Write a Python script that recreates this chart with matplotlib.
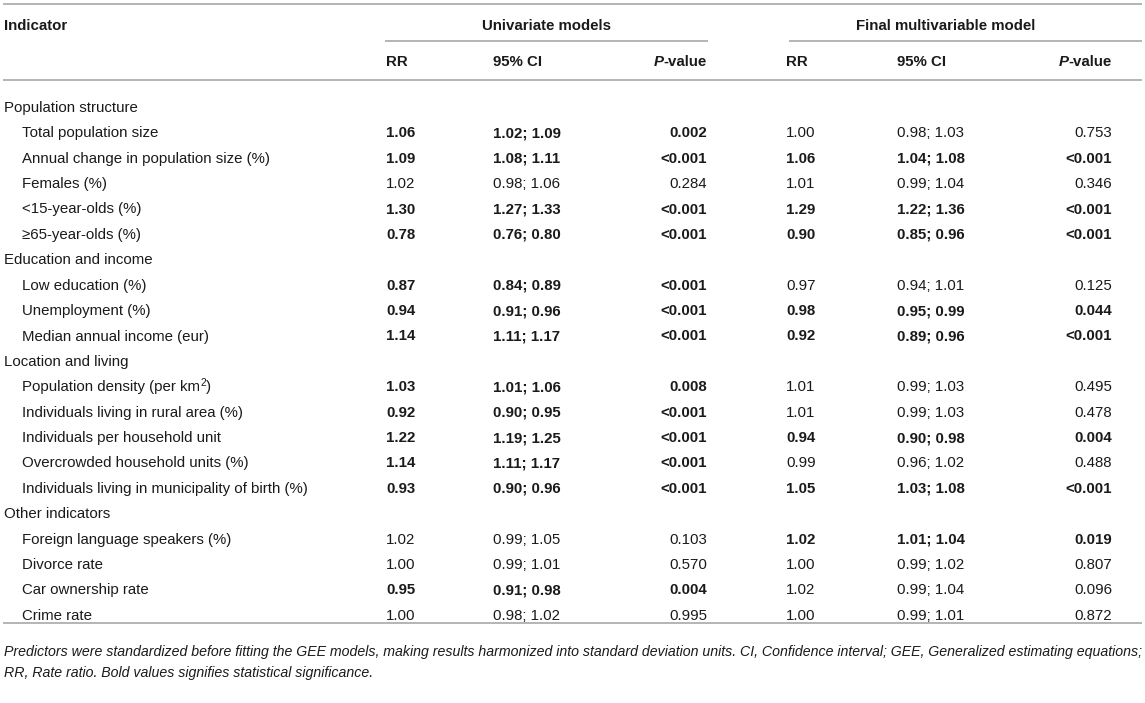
import matplotlib
matplotlib.use("Agg")
import matplotlib.pyplot as plt

# ---------------- data ----------------
groups = ["Population structure", "Education and income", "Location and living", "Other indicators"]
group_members = [
    ["Total population size", "Annual change in population size (%)", "Females (%)",
     "<15-year-olds (%)", "\u226565-year-olds (%)"],
    ["Low education (%)", "Unemployment (%)", "Median annual income (eur)"],
    ["Population density (per km^2)", "Individuals living in rural area (%)",
     "Individuals per household unit", "Overcrowded household units (%)",
     "Individuals living in municipality of birth (%)"],
    ["Foreign language speakers (%)", "Divorce rate", "Car ownership rate", "Crime rate"],
]
uni_rr = ["1.06", "1.09", "1.02", "1.30", "0.78", "0.87", "0.94", "1.14", "1.03", "0.92",
          "1.22", "1.14", "0.93", "1.02", "1.00", "0.95", "1.00"]
uni_ci = ["1.02; 1.09", "1.08; 1.11", "0.98; 1.06", "1.27; 1.33", "0.76; 0.80", "0.84; 0.89",
          "0.91; 0.96", "1.11; 1.17", "1.01; 1.06", "0.90; 0.95", "1.19; 1.25", "1.11; 1.17",
          "0.90; 0.96", "0.99; 1.05", "0.99; 1.01", "0.91; 0.98", "0.98; 1.02"]
uni_p = ["0.002", "<0.001", "0.284", "<0.001", "<0.001", "<0.001", "<0.001", "<0.001", "0.008",
         "<0.001", "<0.001", "<0.001", "<0.001", "0.103", "0.570", "0.004", "0.995"]
fin_rr = ["1.00", "1.06", "1.01", "1.29", "0.90", "0.97", "0.98", "0.92", "1.01", "1.01",
          "0.94", "0.99", "1.05", "1.02", "1.00", "1.02", "1.00"]
fin_ci = ["0.98; 1.03", "1.04; 1.08", "0.99; 1.04", "1.22; 1.36", "0.85; 0.96", "0.94; 1.01",
          "0.95; 0.99", "0.89; 0.96", "0.99; 1.03", "0.99; 1.03", "0.90; 0.98", "0.96; 1.02",
          "1.03; 1.08", "1.01; 1.04", "0.99; 1.02", "0.99; 1.04", "0.99; 1.01"]
fin_p = ["0.753", "<0.001", "0.346", "<0.001", "<0.001", "0.125", "0.044", "<0.001", "0.495",
         "0.478", "0.004", "0.488", "<0.001", "0.019", "0.807", "0.096", "0.872"]
uni_sig = [True, True, False, True, True, True, True, True, True, True, True, True, True,
           False, False, True, False]
fin_sig = [False, True, False, True, True, False, True, True, False, False, True, False, True,
           True, False, False, False]
footnote = ["Predictors were standardized before fitting the GEE models, making results harmonized into standard deviation units. CI, Confidence interval; GEE, Generalized estimating equations;",
            "RR, Rate ratio. Bold values signifies statistical significance."]

# ---------------- layout ----------------
W, H = 1145, 703
FONT = "Liberation Sans"
FS = 10.8
TXT = "#1a1a1a"
LINE = "#a0a0a0"

fig = plt.figure(figsize=(W / 100, H / 100), dpi=100)
ax = fig.add_axes([0, 0, 1, 1])
ax.set_xlim(0, W)
ax.set_ylim(H, 0)
ax.axis("off")
fig.canvas.draw()
renderer = fig.canvas.get_renderer()


def txt(x, y, s, ha="left", bold=False, italic=False, size=FS, base=None):
    # y is the visual centre of the row; draw on a common baseline
    yb = y + 3.9 * FS / 10.8 if base is None else base
    return ax.text(x, yb, s, ha=ha, va="baseline", fontsize=size,
                   family=FONT, color=TXT,
                   fontweight="bold" if bold else "normal",
                   fontstyle="italic" if italic else "normal")


def right_edge(t):
    bb = t.get_window_extent(renderer=renderer)
    return ax.transData.inverted().transform((bb.x1, bb.y0))[0]


def left_edge(t):
    bb = t.get_window_extent(renderer=renderer)
    return ax.transData.inverted().transform((bb.x0, bb.y0))[0]


def label(x, y, s):
    # supports a single "^2" style superscript
    if "^" in s:
        pre, rest = s.split("^", 1)
        sup, post = rest[0], rest[1:]
        t1 = txt(x, y, pre)
        x1 = right_edge(t1)
        yb = y + 3.9 * FS / 10.8
        t2 = txt(x1 + 0.3, y, sup, size=FS * 0.68, base=yb - 5.5)
        x2 = right_edge(t2)
        txt(x2 + 0.3, y, post)
    else:
        txt(x, y, s)


def hline(y, x0, x1):
    ax.plot([x0, x1], [y, y], color=LINE, lw=1.1, solid_capstyle="butt")


# rules
hline(4, 3, 1142)
hline(41, 385, 708)
hline(41, 789, 1142)
hline(80, 3, 1142)
hline(623, 3, 1142)

# headers
txt(4, 26, "Indicator", bold=True)
txt(546, 26, "Univariate models", ha="center", bold=True)
txt(946, 26, "Final multivariable model", ha="center", bold=True)

col_rr = [386, 786]
col_ci = [493, 897]
col_p = [707, 1112]

for i in range(2):
    txt(col_rr[i], 62, "RR", bold=True)
    txt(col_ci[i], 62, "95% CI", bold=True)
    t = txt(col_p[i], 62, "-value", ha="right", bold=True)
    txt(left_edge(t), 62, "P", ha="right", bold=True, italic=True)

# body
y0, dy = 108, 25.4
row = 0
k = 0
for g, members in zip(groups, group_members):
    txt(4, y0 + row * dy, g)
    row += 1
    for name in members:
        y = y0 + row * dy
        label(22, y, name)
        txt(col_rr[0], y, uni_rr[k], bold=uni_sig[k])
        txt(col_ci[0], y, uni_ci[k], bold=uni_sig[k])
        txt(col_p[0], y, uni_p[k], ha="right", bold=uni_sig[k])
        txt(col_rr[1], y, fin_rr[k], bold=fin_sig[k])
        txt(col_ci[1], y, fin_ci[k], bold=fin_sig[k])
        txt(col_p[1], y, fin_p[k], ha="right", bold=fin_sig[k])
        row += 1
        k += 1

# footnote
txt(4, 652, footnote[0], italic=True, size=10.2)
txt(4, 673, footnote[1], italic=True, size=10.2)

fig.savefig("out.png", dpi=100)
